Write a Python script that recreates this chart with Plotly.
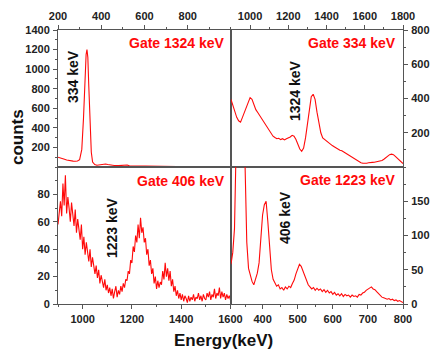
import plotly.graph_objects as go

# ---- Data ----
# Top-left: Gate 1324 keV
tl_energy = [200, 210, 220, 230, 240, 250, 260, 270, 280, 290, 300, 310, 318, 325, 330, 334, 338, 342, 348, 354,
             360, 370, 380, 390, 400, 410, 420, 430, 440, 460, 480, 500, 510, 520, 530, 560, 600, 650, 700, 750,
             800, 850, 900, 950, 1000]
tl_counts = [100, 95, 88, 80, 72, 66, 62, 60, 58, 62, 75, 180, 500, 900, 1150, 1200, 1120, 850, 450, 150,
             50, 25, 18, 22, 28, 32, 30, 25, 20, 15, 14, 18, 25, 20, 12, 10, 8, 7, 6, 5,
             5, 4, 4, 3, 3]

# Top-right: Gate 334 keV
tr_energy = list(range(900, 1801, 10))
tr_counts = [395, 360, 330, 290, 270, 262, 290, 320, 350, 385, 405, 395, 360, 335, 318, 300, 290, 270, 250, 230,
             210, 195, 180, 172, 165, 168, 160, 165, 158, 165, 170, 175, 185, 180, 160, 130, 105, 92, 110, 170,
             260, 350, 410, 425, 395, 320, 250, 200, 170, 160, 150, 140, 132, 125, 118, 110, 105, 98, 95, 88,
             80, 72, 65, 58, 50, 45, 38, 30, 25, 22, 20, 22, 25, 24, 27, 28, 30, 32, 35, 38,
             45, 55, 65, 72, 75, 72, 62, 50, 38, 28, 20]

# Bottom-left: Gate 406 keV
bl_energy = list(range(900, 1601, 5))
bl_counts = [58, 70, 75, 64, 88, 72, 94, 66, 78, 70, 60, 74, 63, 57, 69, 52, 62, 55, 47, 58,
             40, 49, 36, 45, 39, 31, 40, 27, 34, 29, 22, 28, 19, 25, 15, 21, 17, 12, 18, 10,
             14, 8, 12, 6, 11, 4, 9, 13, 5, 10, 7, 13, 9, 15, 12, 18, 17, 24, 22, 32,
             30, 42, 38, 50, 45, 58, 48, 63, 52, 56, 45, 48, 36, 40, 28, 32, 22, 26, 15, 20,
             11, 17, 12, 16, 14, 24, 18, 30, 20, 26, 17, 24, 13, 18, 9, 13, 6, 10, 4, 8,
             3, 7, 2, 6, 4, 1, 6, 2, 5, 3, 7, 2, 5, 4, 8, 3, 6, 2, 7, 4,
             3, 8, 5, 9, 3, 7, 5, 11, 4, 8, 6, 12, 4, 9, 5, 8, 3, 7, 4, 6,
             3]

# Bottom-right: Gate 1223 keV
br_energy = list(range(310, 801, 5))
br_counts = [58, 75, 110, 180, 320, 500, 480, 320, 190, 90, 52, 40, 33, 28, 35, 45, 60, 90, 130, 145,
             150, 120, 80, 50, 36, 30, 26, 28, 22, 24, 20, 25, 22, 26, 24, 30, 35, 44, 52, 58,
             55, 48, 40, 32, 28, 25, 22, 24, 20, 23, 20, 22, 18, 21, 17, 20, 16, 18, 14, 17,
             13, 15, 12, 15, 11, 14, 12, 13, 10, 13, 11, 12, 10, 14, 13, 16, 17, 20, 22, 24,
             25, 22, 21, 18, 15, 12, 10, 9, 8, 7, 8, 6, 7, 5, 6, 4, 5, 3, 2]

# Tick values
tl_xticks = [200, 400, 600, 800]
tl_yticks = [200, 400, 600, 800, 1000, 1200, 1400]
tr_xticks = [1000, 1200, 1400, 1600, 1800]
tr_yticks = [200, 400, 600, 800]
bl_xticks = [1000, 1200, 1400, 1600]
bl_yticks = [0, 20, 40, 60, 80]
br_xticks = [400, 500, 600, 700, 800]
br_yticks = [0, 50, 100, 150]

RED = "#ff0a0a"
FRAME = "#555555"
TICKFONT = dict(family="Liberation Sans, Arial, sans-serif", size=11, color="#222222", weight="bold")

fig = go.Figure()
line = dict(color=RED, width=1.1)
fig.add_trace(go.Scatter(x=tl_energy, y=tl_counts, mode="lines", line=line, xaxis="x", yaxis="y", showlegend=False))
fig.add_trace(go.Scatter(x=tr_energy, y=tr_counts, mode="lines", line=line, xaxis="x2", yaxis="y2", showlegend=False))
fig.add_trace(go.Scatter(x=bl_energy, y=bl_counts, mode="lines", line=line, xaxis="x3", yaxis="y3", showlegend=False))
fig.add_trace(go.Scatter(x=br_energy, y=br_counts, mode="lines", line=line, xaxis="x4", yaxis="y4", showlegend=False))

XD = 0.5014

def ax(domain, rng, tickvals, side, anchor, dtick_minor):
    return dict(domain=domain, range=rng, tickvals=tickvals, side=side, anchor=anchor,
                showline=True, linecolor=FRAME, linewidth=1, mirror=True,
                ticks="outside", ticklen=4, tickcolor=FRAME, tickwidth=1,
                minor=dict(ticks="outside", ticklen=2, tickcolor=FRAME, dtick=dtick_minor, showgrid=False),
                showgrid=False, zeroline=False, tickfont=TICKFONT, ticklabelstandoff=1,
                automargin=False)

fig.update_layout(
    width=432, height=353,
    margin=dict(l=58, r=29, t=30, b=49),
    paper_bgcolor="white", plot_bgcolor="white",
    xaxis=ax([0, XD], [200, 1000], tl_xticks, "top", "y", 100),
    yaxis=ax([0.5, 1], [0, 1400], tl_yticks, "left", "x", 100),
    xaxis2=ax([XD, 1], [900, 1800], tr_xticks, "top", "y2", 100),
    yaxis2=ax([0.5, 1], [0, 800], tr_yticks, "right", "x2", 100),
    xaxis3=ax([0, XD], [900, 1602], bl_xticks, "bottom", "y3", 100),
    yaxis3=ax([0, 0.5], [0, 100], bl_yticks, "left", "x3", 10),
    xaxis4=ax([XD, 1], [310, 800], br_xticks, "bottom", "y4", 50),
    yaxis4=ax([0, 0.5], [0, 200], br_yticks, "right", "x4", 25),
)

W, H = 432, 353
L, R, T, B = 58, 29, 30, 49
PW, PH = W - L - R, H - T - B

def px(x):
    return (x - L) / PW

def py(y):
    return (H - B - y) / PH

GATEFONT = dict(family="Liberation Sans, Arial, sans-serif", size=14, color=RED, weight="bold")
PEAKFONT = dict(family="Liberation Sans, Arial, sans-serif", size=14, color="#111111", weight="bold")
TITLEFONT = dict(family="Liberation Sans, Arial, sans-serif", size=17, color="#111111", weight="bold")

gates = [("Gate 1324 keV", 227, 43), ("Gate 334 keV", 398, 43), ("Gate 406 keV", 227, 181), ("Gate 1223 keV", 398, 180)]
for txt, x, y in gates:
    fig.add_annotation(text=txt, xref="paper", yref="paper", x=px(x), y=py(y), xanchor="right", yanchor="middle",
                       showarrow=False, font=GATEFONT)

peaks = [("334 keV", 73, 77), ("1324 keV", 295, 91), ("1223 keV", 112, 228), ("406 keV", 285, 218)]
for txt, x, y in peaks:
    fig.add_annotation(text=txt, xref="paper", yref="paper", x=px(x), y=py(y), xanchor="center", yanchor="middle",
                       showarrow=False, textangle=-90, font=PEAKFONT)

fig.add_annotation(text="counts", xref="paper", yref="paper", x=px(17), y=py(137), textangle=-90,
                   xanchor="center", yanchor="middle", showarrow=False, font=TITLEFONT)
fig.add_annotation(text="Energy(keV)", xref="paper", yref="paper", x=px(223), y=py(340),
                   xanchor="center", yanchor="middle", showarrow=False, font=TITLEFONT)

fig.write_html("out.html",
               config={"displayModeBar": False},
               post_script="document.body.style.margin='0';document.body.style.padding='0';"
                           "document.body.style.overflow='hidden';")
